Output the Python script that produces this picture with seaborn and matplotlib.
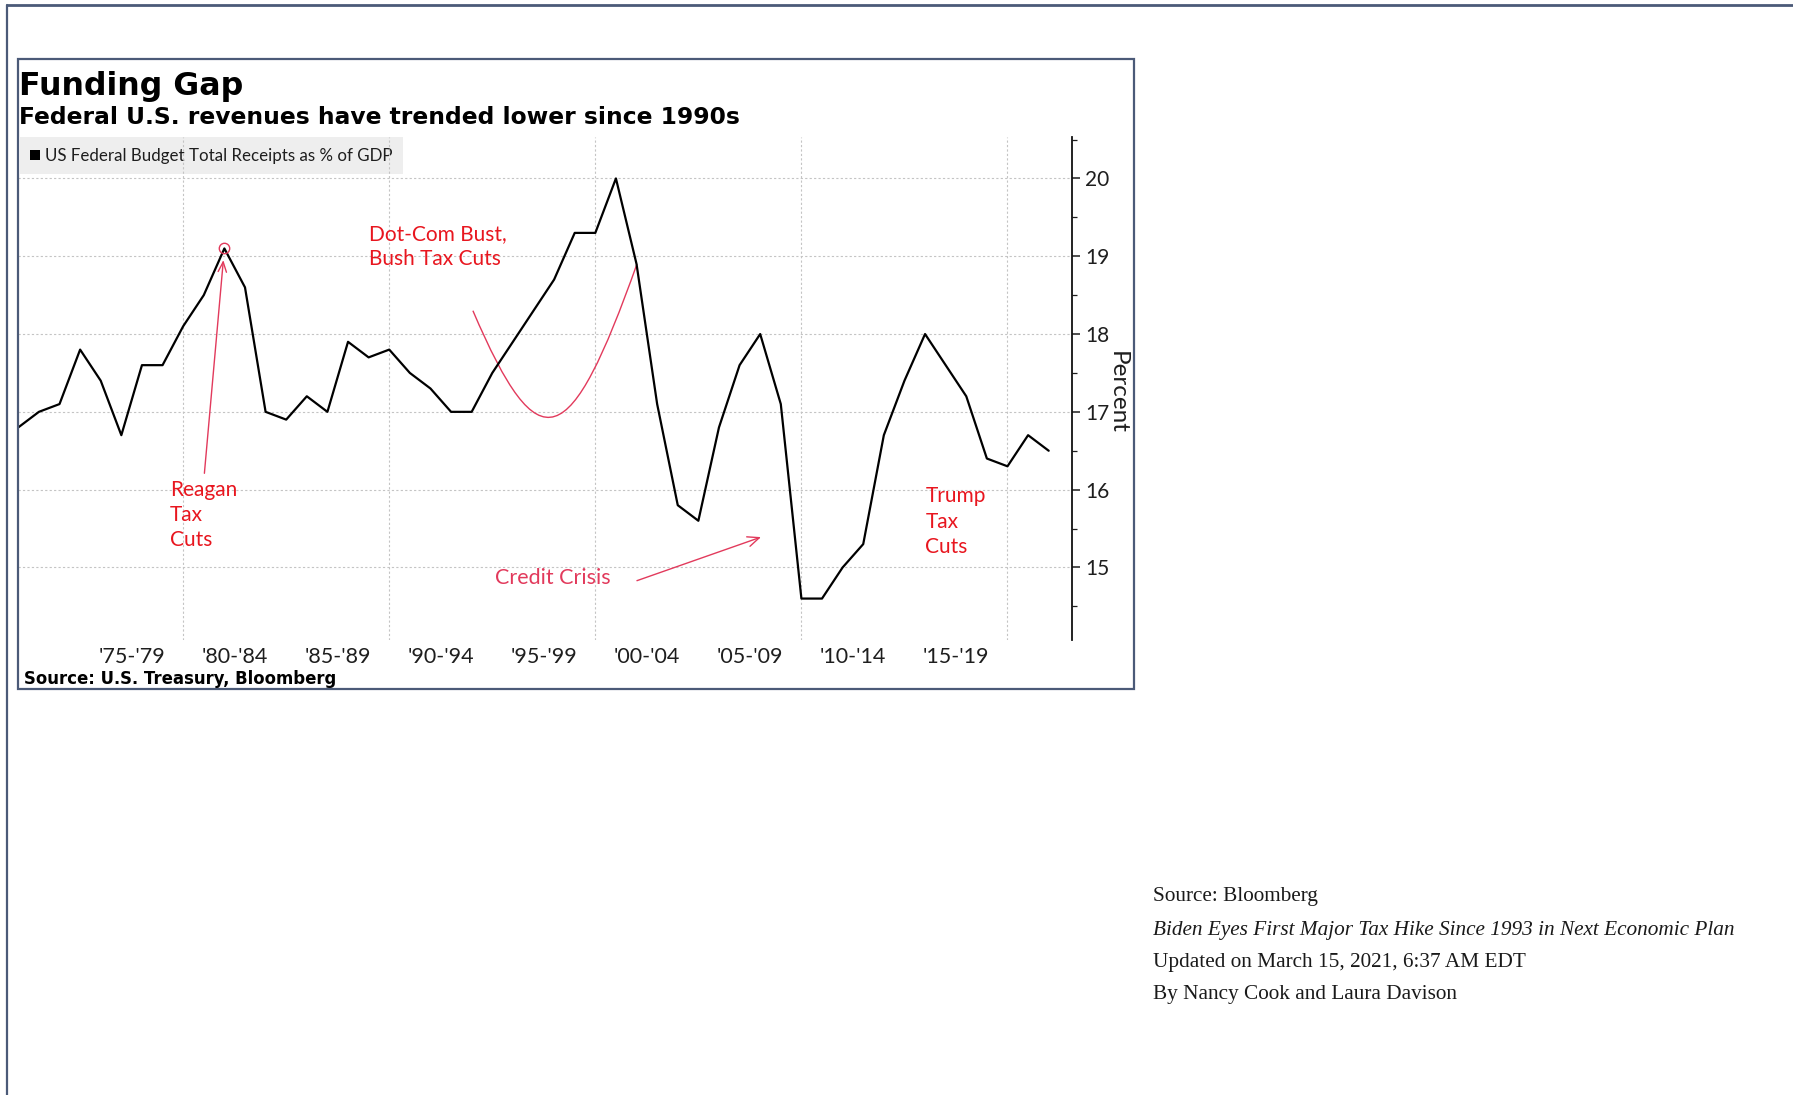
import numpy as np
import pandas as pd
import matplotlib
matplotlib.use("Agg")
import matplotlib.pyplot as plt
import seaborn as sns
from matplotlib.patches import Patch, Rectangle, PathPatch
from matplotlib.path import Path
from matplotlib.lines import Line2D

# US federal budget total receipts as % of GDP, fiscal years 1971-2021
fiscal_years = list(range(1971, 2022))
receipts_pct_gdp = [
    16.8, 17.0, 17.1, 17.8, 17.4, 16.7, 17.6, 17.6, 18.1, 18.5,
    19.1, 18.6, 17.0, 16.9, 17.2, 17.0, 17.9, 17.7, 17.8, 17.5,
    17.3, 17.0, 17.0, 17.5, 17.9, 18.3, 18.7, 19.3, 19.3, 20.0,
    18.9, 17.1, 15.8, 15.6, 16.8, 17.6, 18.0, 17.1, 14.6, 14.6,
    15.0, 15.3, 16.7, 17.4, 18.0, 17.6, 17.2, 16.4, 16.3, 16.7,
    16.5,
]
period_starts = [1975, 1980, 1985, 1990, 1995, 2000, 2005, 2010, 2015]
period_labels = ["'75-'79", "'80-'84", "'85-'89", "'90-'94", "'95-'99",
                 "'00-'04", "'05-'09", "'10-'14", "'15-'19"]
decade_lines = [1980, 1990, 2000, 2010, 2020]
percent_ticks = [15, 16, 17, 18, 19, 20]
series_label = "US Federal Budget Total Receipts as % of GDP"

# each fiscal-year value sits at the end of its year
df = pd.DataFrame({"year_end": np.array(fiscal_years) + 1,
                   "receipts": receipts_pct_gdp})

sns.set_theme(style="white")
plt.rcParams["font.family"] = ["Lato", "DejaVu Sans"]

W, H = 1793, 1095
fig = plt.figure(figsize=(W / 100, H / 100), dpi=100)
fig.patch.set_facecolor("white")


def fx(px):
    return px / W


def fy(py):
    return 1 - py / H


FRAME = "#4b5a78"
RED = "#e8161f"
PINK = "#e23a5c"
GRID = "#c4c4c4"
INK = "#1e1e1e"

ax_l, ax_r, ax_t, ax_b = 18.3, 1072.4, 137.2, 639.8
ax = fig.add_axes([fx(ax_l), fy(ax_b), fx(ax_r) - fx(ax_l), fy(ax_t) - fy(ax_b)])
ax.set_facecolor("white")

sns.lineplot(data=df, x="year_end", y="receipts", color="black",
             linewidth=1.6, ax=ax, legend=False, zorder=3)

ax.set_xlim(1972, 2023.15)
ax.set_ylim(14.07, 20.53)

# x axis: period labels centred on each 5-year span, decade grid lines
ax.set_xticks([s + 2.5 for s in period_starts])
ax.set_xticklabels(period_labels)
ax.set_xticks(decade_lines, minor=True)
ax.tick_params(axis="x", which="both", length=0, pad=5.5, labelsize=15.5,
               colors=INK)

# y axis on the right
ax.yaxis.tick_right()
ax.yaxis.set_label_position("right")
ax.set_yticks(percent_ticks)
ax.set_yticks(np.arange(14.5, 20.6, 1.0), minor=True)
ax.tick_params(axis="y", which="major", direction="out", length=6, width=1.1,
               pad=3, labelsize=15, colors=INK, right=True, left=False)
ax.tick_params(axis="y", which="minor", direction="out", length=3.5, width=0.9,
               right=True, left=False, color=INK)
ax.set_xlabel("")
ax.set_ylabel("Percent", fontsize=17.5, rotation=270, color=INK)
ax.yaxis.label.set_verticalalignment("center")
ax.yaxis.label.set_horizontalalignment("center")
ax.yaxis.set_label_coords((1117 - ax_l) / (ax_r - ax_l), (ax_b - 392) / (ax_b - ax_t))

for side in ["left", "top", "bottom"]:
    ax.spines[side].set_visible(False)
ax.spines["right"].set_color("#111111")
ax.spines["right"].set_linewidth(1.3)

ax.grid(False)
ax.xaxis.grid(True, which="minor", color=GRID, linestyle=(0, (2, 2)), linewidth=0.8)
ax.yaxis.grid(True, which="major", color=GRID, linestyle=(0, (2, 2)), linewidth=0.8)
ax.set_axisbelow(True)

# legend box in the top-left corner, grid lines show over it
leg = ax.legend(handles=[Patch(facecolor="black", edgecolor="none")],
                labels=[series_label], loc="upper left",
                bbox_to_anchor=(0.0015, 1.0), frameon=True, fancybox=False,
                facecolor="#eeeeee", edgecolor="none", framealpha=1,
                fontsize=12.2, handlelength=0.55, handleheight=0.55,
                handletextpad=0.3, borderpad=0.62, borderaxespad=0)
for t in leg.get_texts():
    t.set_color(INK)
leg.set_zorder(0.3)

# annotations
peak_i = int(np.argmax(receipts_pct_gdp[:20]))
ax.plot(df["year_end"][peak_i], df["receipts"][peak_i], marker="o", ms=7.5,
        mfc="none", mec=PINK, mew=1.0, zorder=4)

ax.annotate("", xy=(1981.95, 18.95), xytext=(1981.03, 16.21),
            arrowprops=dict(arrowstyle="->,head_length=0.6,head_width=0.25",
                            color=PINK, lw=1.0, shrinkA=0, shrinkB=0))
ax.text(1979.36, 15.675, "Reagan\nTax\nCuts", color=RED, fontsize=15,
        ha="left", va="center", linespacing=1.32)

ax.text(1989.04, 19.126, "Dot-Com Bust,\nBush Tax Cuts", color=RED, fontsize=15,
        ha="left", va="center", linespacing=1.32)
curve = Path([(1994.06, 18.30), (1997.31, 16.29), (1998.77, 16.49), (2002.02, 18.90)],
             [Path.MOVETO, Path.CURVE4, Path.CURVE4, Path.CURVE4])
ax.add_patch(PathPatch(curve, facecolor="none", edgecolor=PINK, lw=1.0, zorder=2.5))

ax.text(1997.94, 14.86, "Credit Crisis", color=PINK, fontsize=15.5,
        ha="center", va="center")
ax.annotate("", xy=(2008.04, 15.39), xytext=(2002.02, 14.83),
            arrowprops=dict(arrowstyle="->,head_length=0.7,head_width=0.3",
                            color=PINK, lw=1.0, shrinkA=0, shrinkB=0))

ax.text(2016.01, 15.59, "Trump\nTax\nCuts", color=RED, fontsize=15,
        ha="left", va="center", linespacing=1.32)

# titles and source inside the chart panel
fig.text(fx(19), fy(95), "Funding Gap", family="DejaVu Sans", weight="bold",
         fontsize=22.8, va="baseline", ha="left", color="black")
fig.text(fx(19), fy(124), "Federal U.S. revenues have trended lower since 1990s",
         family="DejaVu Sans", weight="bold", fontsize=16.8, va="baseline",
         ha="left", color="black")
fig.text(fx(24), fy(684), "Source: U.S. Treasury, Bloomberg", family="DejaVu Sans",
         weight="bold", fontsize=11.9, va="baseline", ha="left", color="black")

# chart panel border and page frame
fig.add_artist(Rectangle((fx(18), fy(689)), fx(1134) - fx(18), fy(59.5) - fy(689),
                         transform=fig.transFigure, fill=False, edgecolor=FRAME,
                         linewidth=1.6))
fig.add_artist(Line2D([fx(7), 1.0], [fy(5.3), fy(5.3)], transform=fig.transFigure,
                      color=FRAME, linewidth=2.0))
fig.add_artist(Line2D([fx(7), fx(7)], [fy(5.3), 0.0], transform=fig.transFigure,
                      color=FRAME, linewidth=1.6))

# article credit block
credit_x = fx(1153)
fig.text(credit_x, fy(900.7), "Source: Bloomberg", family="Liberation Serif",
         fontsize=15.3, va="baseline", ha="left", color="#1a1a1a")
fig.text(credit_x, fy(934.5), "Biden Eyes First Major Tax Hike Since 1993 in Next Economic Plan",
         family="Liberation Serif", style="italic", fontsize=15.3, va="baseline",
         ha="left", color="#1a1a1a")
fig.text(credit_x, fy(967), "Updated on March 15, 2021, 6:37 AM EDT",
         family="Liberation Serif", fontsize=15.3, va="baseline", ha="left",
         color="#1a1a1a")
fig.text(credit_x, fy(999), "By Nancy Cook and Laura Davison",
         family="Liberation Serif", fontsize=15.3, va="baseline", ha="left",
         color="#1a1a1a")

fig.savefig("out.png", dpi=100, facecolor="white")
